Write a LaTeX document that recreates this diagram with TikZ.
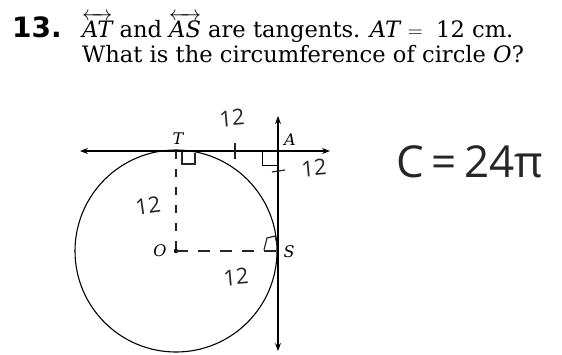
\documentclass[tikz,border=0pt]{standalone}
\usepackage{amsmath}
\usepackage{fontspec}
\setmainfont{DejaVu Serif}
\newfontfamily\numfont{DejaVu Sans}
\newfontfamily\handfont{Open Sans}
\usetikzlibrary{arrows.meta}
\tikzset{
  geo/.style={line width=1.1pt, black},
  geoarrow/.style={geo, {Stealth[length=8pt,width=6pt]}-{Stealth[length=8pt,width=6pt]}},
  hand/.style={line width=1.2pt, black!85},
  handtxt/.style={font=\handfont\fontsize{22}{22}\selectfont, text=black!85, inner sep=0pt},
  ptlabel/.style={font=\fontsize{16}{16}\selectfont\itshape, inner sep=0pt},
  qtext/.style={font=\fontsize{22.6}{26}\selectfont, anchor=base west, inner sep=0pt}
}
\begin{document}
\begin{tikzpicture}[x=1pt,y=-1pt]
\useasboundingbox (0,0) rectangle (562,354);
% question text
\node[qtext, font=\numfont\bfseries\fontsize{28}{30}\selectfont] (num) at (12,37) {13.};
\node[qtext] (line1) at (82,37) {$\overleftrightarrow{\text{\itshape AT}}$ and $\overleftrightarrow{\text{\itshape AS}}$ are tangents. \textit{AT}\;$=$\; 12 cm.};
\node[qtext] (line2) at (82,62) {What is the circumference of circle \textit{O}?};
% key points
\coordinate (O) at (176,251);
\coordinate (T) at (176,151);
\coordinate (A) at (278,151);
\coordinate (S) at (278,251);
\coordinate (hl) at (80,151);
\coordinate (hr) at (330,151);
\coordinate (vt) at (278,116);
\coordinate (vb) at (278,351);
% circle
\draw[geo] (O) circle[radius=101];
% tangent lines
\draw[geoarrow] (hl) -- (hr);
\draw[geoarrow] (vt) -- (vb);
% right angle at A
\draw[geo, line width=0.9pt] ([xshift=-16]A) -- ([xshift=-16,yshift=-14]A) -- ([yshift=-14]A);
% point O
\fill (O) circle[radius=2.2];
% labels
\node[ptlabel] (Tl) at (178,139) {T};
\node[ptlabel] (Al) at (290,140) {A};
\node[ptlabel] (Sl) at (289,252) {S};
\node[ptlabel] (Ol) at (160,251) {O};
% handwritten annotations
\draw[hand, dash pattern=on 8pt off 10pt] (T) -- (O);
\draw[hand, dash pattern=on 12pt off 10pt] (O) -- (S);
\draw[hand] ([xshift=6,yshift=-1]T) -- ([xshift=6,yshift=-13]T) -- ([xshift=19,yshift=-13]T) -- ([xshift=19,yshift=-2]T);
\draw[hand] ([xshift=-14,yshift=1]S) -- ([xshift=-11,yshift=13]S) -- ([xshift=-3,yshift=15]S) -- ([xshift=-1,yshift=7]S);
\coordinate (tk1) at (235,151);
\draw[hand] ([yshift=-8]tk1) -- ([yshift=8]tk1);
\coordinate (tk2) at (278,171);
\draw[hand] ([xshift=-6,yshift=-1]tk2) -- ([xshift=7,yshift=1]tk2);
\node[handtxt, rotate=5] (h1) at (232,118) {12};
\node[handtxt, rotate=5] (h2) at (314,168) {12};
\node[handtxt, rotate=8] (h3) at (148,206) {12};
\node[handtxt, rotate=5] (h4) at (236,277) {12};
\node[handtxt, font=\handfont\fontsize{44}{44}\selectfont] (C) at (470,162) {C\,=\,24π};
\end{tikzpicture}
\end{document}
